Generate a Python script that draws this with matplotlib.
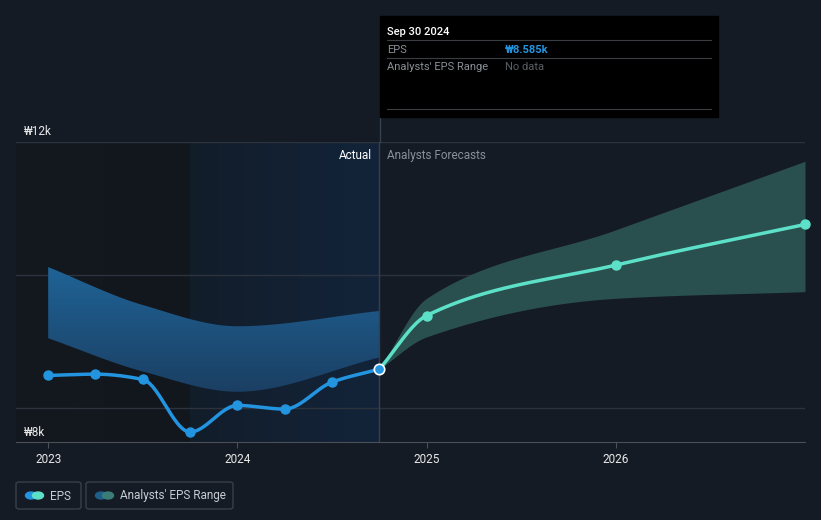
import numpy as np
import matplotlib
matplotlib.use('Agg')
import matplotlib.pyplot as plt
from matplotlib.patches import Rectangle, FancyBboxPatch, Circle
from matplotlib.colors import LinearSegmentedColormap

plt.rcParams['font.family'] = ['Roboto', 'DejaVu Sans']

# EPS actual (thousand KRW), quarterly
eps_x = [2023.0, 2023.25, 2023.5, 2023.75, 2024.0, 2024.25, 2024.5, 2024.75]
eps_y = [8.49, 8.51, 8.43, 7.64, 8.04, 7.985, 8.39, 8.585]

# EPS forecast
fc_x = [2024.75, 2025.0, 2026.0, 2027.0]
fc_y = [8.585, 9.39, 10.15, 10.76]
fc_hi = [8.585, 9.65, 10.68, 11.71]
fc_lo = [8.585, 9.07, 9.65, 9.75]

# past analysts range
past_x = [2023.0, 2023.5, 2024.0, 2024.75]
past_hi = [10.12, 9.55, 9.23, 9.46]
past_lo = [9.05, 8.55, 8.245, 8.76]

years = [2023, 2024, 2025, 2026]
year_labels = ['2023', '2024', '2025', '2026']

BG = '#151b25'
W, H = 821, 520


def smooth(xs, ys, n=200):
    # monotone cubic hermite
    xs = np.asarray(xs, float); ys = np.asarray(ys, float)
    h = np.diff(xs); d = np.diff(ys) / h
    m = np.zeros(len(xs))
    m[0], m[-1] = d[0], d[-1]
    for i in range(1, len(xs) - 1):
        if d[i - 1] * d[i] <= 0:
            m[i] = 0
        else:
            w1 = 2 * h[i] + h[i - 1]; w2 = h[i] + 2 * h[i - 1]
            m[i] = (w1 + w2) / (w1 / d[i - 1] + w2 / d[i])
    xx = np.linspace(xs[0], xs[-1], n)
    k = np.clip(np.searchsorted(xs, xx) - 1, 0, len(xs) - 2)
    t = (xx - xs[k]) / h[k]
    h00 = 2 * t**3 - 3 * t**2 + 1; h10 = t**3 - 2 * t**2 + t
    h01 = -2 * t**3 + 3 * t**2; h11 = t**3 - t**2
    yy = h00 * ys[k] + h10 * h[k] * m[k] + h01 * ys[k + 1] + h11 * h[k] * m[k + 1]
    return xx, yy


def fx(x):
    return x / W


def fy(y):
    return 1 - y / H


fig = plt.figure(figsize=(W / 100, H / 100), dpi=100, facecolor=BG)
ax = fig.add_axes([fx(16), fy(442), fx(805) - fx(16), fy(142) - fy(442)])
ax.set_facecolor(BG)
x0, x1 = 2022.83, 2027.0
y0, y1 = 7.49, 12.0
ax.set_xlim(x0, x1)
ax.set_ylim(y0, y1)

# background regions
dark = LinearSegmentedColormap.from_list('d', ['#141920', '#12161d'])
ax.imshow(np.linspace(0, 1, 400)[None, :], cmap=dark, extent=[x0, 2023.75, y0, y1],
          aspect='auto', zorder=0, interpolation='bilinear')
blue = LinearSegmentedColormap.from_list('b', ['#121d2a', '#13243a'])
ax.imshow(np.linspace(0, 1, 400)[None, :], cmap=blue, extent=[2023.75, 2024.75, y0, y1],
          aspect='auto', zorder=0, interpolation='bilinear')

# gridlines
for g in [8.0, 10.0, 12.0]:
    ax.axhline(g, color='#2c333d', lw=1, zorder=1)

# past range band with vertical gradient
px_, phi = smooth(past_x, past_hi)
_, plo = smooth(past_x, past_lo)
band = ax.fill_between(px_, plo, phi, color='none', lw=0, zorder=2)
grad = LinearSegmentedColormap.from_list('g', ['#1b3f63', '#1f6396'])
im = ax.imshow(np.linspace(0, 1, 200)[:, None], cmap=grad, origin='lower',
               extent=[2023.0, 2024.75, min(past_lo), max(past_hi)], aspect='auto', zorder=2,
               interpolation='bilinear')
im.set_clip_path(band.get_paths()[0], transform=ax.transData)
ax.set_xlim(x0, x1)
ax.set_ylim(y0, y1)

# forecast band
fxx, fhi = smooth(fc_x, fc_hi)
_, flo = smooth(fc_x, fc_lo)
ax.fill_between(fxx, flo, fhi, color='#2b5251', alpha=0.95, lw=0, zorder=2)

# lines
ex, ey = smooth(eps_x, eps_y)
ax.plot(ex, ey, color='#2394df', lw=2.5, zorder=4, solid_capstyle='round')
ax.plot(eps_x[:-1], eps_y[:-1], 'o', color='#2394df', ms=6.5, zorder=5)
cx, cy = smooth(fc_x, fc_y)
ax.plot(cx, cy, color='#5de0c8', lw=2.5, zorder=4, solid_capstyle='round')
ax.plot(fc_x[1:], fc_y[1:], 'o', color='#5de0c8', ms=6.5, zorder=5, clip_on=False)
ax.plot(eps_x[-1], eps_y[-1], 'o', color='#2394df', mec='white', mew=1.2, ms=7.5, zorder=6)

# divider line
ax.axvline(2024.75, color='#34404e', lw=1, zorder=3)
fig.add_artist(plt.Line2D([fx(379.5), fx(379.5)], [fy(118), fy(142)], color='#34404e', lw=1))

for s in ['top', 'right', 'left']:
    ax.spines[s].set_visible(False)
ax.spines['bottom'].set_color('#4a4f58')
ax.set_yticks([])
ax.set_xticks(years)
ax.set_xticklabels(year_labels, fontsize=8.5)
ax.tick_params(axis='x', colors='#4a4f58', length=4, pad=4, labelcolor='#e8e8e8')

# y labels
ax.text(2022.872, 12.065, '₩12k', color='#e8e8e8', fontsize=8.5, va='bottom', ha='left', clip_on=False)
ax.text(2022.872, 7.64, '₩8k', color='#e8e8e8', fontsize=8.5, va='center', ha='left', zorder=6)

ax.text(2024.71, 11.79, 'Actual', color='#ffffff', fontsize=8.5, ha='right', va='center', zorder=6)
ax.text(2024.79, 11.79, 'Analysts Forecasts', color='#8a8f98', fontsize=8.5, ha='left', va='center', zorder=6)

# tooltip
fig.add_artist(Rectangle((fx(380), fy(117)), fx(718) - fx(380), fy(16) - fy(117),
                         transform=fig.transFigure, color='#000000', zorder=10))
for yy in [40, 58, 109]:
    fig.add_artist(plt.Line2D([fx(387), fx(711)], [fy(yy), fy(yy)], color='#3a3d42', lw=0.8, zorder=11))
fig.text(fx(387), fy(32), 'Sep 30 2024', color='#ffffff', fontsize=8, fontweight='medium', va='center', zorder=12)
fig.text(fx(387), fy(50), 'EPS', color='#8a8f98', fontsize=8, va='center', zorder=12)
fig.text(fx(505), fy(50), '₩8.585k', color='#2394df', fontsize=8, fontweight='bold', va='center', zorder=12)
fig.text(fx(387), fy(67), "Analysts' EPS Range", color='#8a8f98', fontsize=8, va='center', zorder=12)
fig.text(fx(505), fy(67), 'No data', color='#5a5f66', fontsize=8, va='center', zorder=12)

# legend
for bx, bw, label, c1, c2, tx in [(16, 65, 'EPS', '#2394df', '#5de0c8', 50),
                                   (86, 147, "Analysts' EPS Range", '#1e5f8a', '#3a7d78', 120)]:
    fig.add_artist(FancyBboxPatch((fx(bx), fy(509)), fx(bw), fy(482) - fy(509),
                                  boxstyle='round,pad=0,rounding_size=0.004',
                                  transform=fig.transFigure, fc='none', ec='#3a3f48', lw=1))
    for dx, c in [(0, c1), (7, c2)]:
        fig.add_artist(Circle((fx(bx + 15 + dx), fy(495.5)), 5.5 / W, transform=fig.transFigure,
                              color=c))
    fig.text(fx(tx), fy(496), label, color='#c8ccd2', fontsize=8.5, va='center')

fig.savefig('out.png', dpi=100, facecolor=BG)
